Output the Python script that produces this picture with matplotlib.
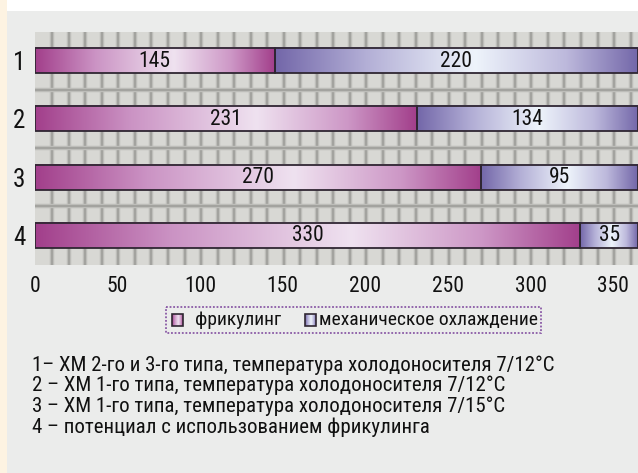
import numpy as np
import matplotlib
matplotlib.use('Agg')
import matplotlib.pyplot as plt
from matplotlib.colors import LinearSegmentedColormap
from matplotlib.patches import Rectangle

plt.rcParams['font.family'] = ['Roboto Condensed', 'DejaVu Sans']

# данные: дни работы в режиме фрикулинга и механического охлаждения
rows = ['1', '2', '3', '4']
free_cooling = [145, 231, 270, 330]
mechanical = [220, 134, 95, 35]
series_names = ['фрикулинг', 'механическое охлаждение']
x_ticks = [0, 50, 100, 150, 200, 250, 300, 350]
notes = [
    '1– ХМ 2-го и 3-го типа, температура холодоносителя 7/12°С',
    '2 – ХМ 1-го типа, температура холодоносителя 7/12°С',
    '3 – ХМ 1-го типа, температура холодоносителя 7/15°С',
    '4 – потенциал с использованием фрикулинга',
]

W, H = 638, 473
panel_bg = '#ebeceb'
grid_bg = '#d8d8d4'
edge = '#2f2632'
ink = '#111111'

fc_cmap = LinearSegmentedColormap.from_list(
    'fc', [(0, '#a23f8b'), (0.25, '#cb93c4'), (0.58, '#efe2f0'),
           (0.82, '#cd97c6'), (1, '#a23f8b')])
mech_cmap = LinearSegmentedColormap.from_list(
    'mech', [(0, '#7367a9'), (0.25, '#b3afd6'), (0.55, '#eef4fb'),
             (0.8, '#bdb9dc'), (1, '#7367a9')])
grad = np.linspace(0, 1, 256).reshape(1, -1)

fig = plt.figure(figsize=(W / 100, H / 100), dpi=100)
fig.patch.set_facecolor(panel_bg)

# белая полоса сверху и кремовая полоса слева
fig.patches.append(Rectangle((0, 1 - 11 / H), 1, 11 / H, transform=fig.transFigure,
                             facecolor='white', edgecolor='none', zorder=0))
fig.patches.append(Rectangle((0, 0), 7 / W, 1, transform=fig.transFigure,
                             facecolor='#fdf3e2', edgecolor='none', zorder=0))

ax = fig.add_axes([35 / W, 1 - 265 / H, (W - 35) / W, 233 / H])
ax.set_facecolor(grid_bg)
y = np.arange(len(rows))

# сетка-клетка на фоне
for gx in range(10, 370, 10):
    ax.axvline(gx + 0.5, color='#bdbdb9', lw=3.2, zorder=1)
    ax.axvline(gx + 0.5, color='#9c9c98', lw=1.1, zorder=1)
for gy in y[:-1] + 0.5:
    ax.axhline(gy, color='#bdbdb9', lw=3.2, zorder=1)
    ax.axhline(gy, color='#9c9c98', lw=1.1, zorder=1)

bh = 0.43
b1 = ax.barh(y, free_cooling, height=bh, facecolor='none', edgecolor=edge, lw=1.3, zorder=4)
b2 = ax.barh(y, mechanical, left=free_cooling, height=bh, facecolor='none',
             edgecolor=edge, lw=1.3, zorder=4)

for bars, vals, cmap in [(b1, free_cooling, fc_cmap), (b2, mechanical, mech_cmap)]:
    for p, v in zip(bars.patches, vals):
        x0, y0, w, h = p.get_x(), p.get_y(), p.get_width(), p.get_height()
        ax.imshow(grad, cmap=cmap, extent=(x0, x0 + w, y0 + h, y0), aspect='auto',
                  interpolation='bilinear', zorder=3)
        ax.text(x0 + w / 2, y0 + h / 2 + 0.01, str(v), ha='center', va='center',
                fontsize=15.5, color=ink, zorder=5)

ax.set_xlim(0, 365)
ax.set_ylim(3.51, -0.49)
ax.set_aspect('auto')
ax.set_xticks(x_ticks)
ax.set_yticks(y, rows)
ax.tick_params(length=0, labelsize=15.5, colors=ink)
ax.tick_params(axis='x', pad=8)
ax.tick_params(axis='y', pad=7, labelsize=18)
for s in ax.spines.values():
    s.set_visible(False)

# легенда в пунктирной рамке
lg = fig.add_axes([165 / W, 1 - 334 / H, 377 / W, 28 / H])
lg.axis('off')
lg.add_patch(Rectangle((1, 1), 375, 26, facecolor='none', edgecolor='#8a5aa6',
                       lw=1.3, linestyle=(0, (1, 1))))
for (sx, tx), name, cmap in zip([(7, 30), (140, 154)], series_names, [fc_cmap, mech_cmap]):
    lg.imshow(grad, cmap=cmap, extent=(sx, sx + 11, 20, 8), aspect='auto',
              interpolation='bilinear')
    lg.add_patch(Rectangle((sx, 8), 11, 12, facecolor='none', edgecolor=edge, lw=1.2))
    lg.text(tx, 14, name, ha='left', va='center', fontsize=14, color=ink)
lg.set_xlim(0, 377)
lg.set_ylim(28, 0)

for i, line in enumerate(notes):
    fig.text(32 / W, 1 - (365 + 20.7 * i) / H, line, ha='left', va='center',
             fontsize=15, color=ink)

fig.savefig('out.png', dpi=100, facecolor=fig.get_facecolor())
